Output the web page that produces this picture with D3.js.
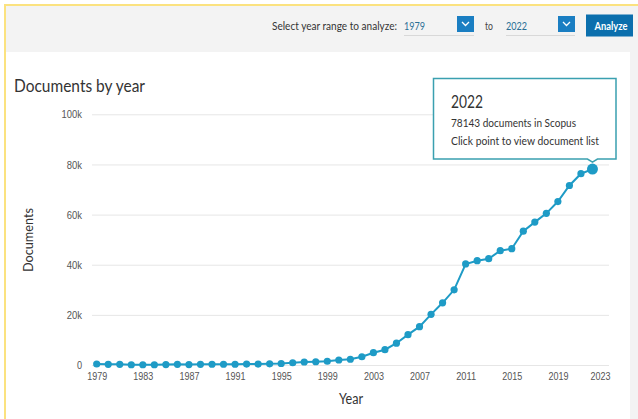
<!DOCTYPE html>
<html><head><meta charset="utf-8">
<script src="https://cdn.jsdelivr.net/npm/d3@7"></script>
<style>
body{margin:0;background:#fff;}
svg{display:block;font-family:Lato,"Open Sans",sans-serif;}
</style></head>
<body><svg id="c" width="638" height="419"></svg>
<script>
const years = d3.range(1979, 2023);
const documents = [400,250,250,100,100,100,150,250,150,250,300,300,300,350,350,450,600,900,1200,1300,1500,2000,2300,3300,4900,6100,8700,12100,15300,20200,24800,30000,40300,41600,42400,45600,46400,53400,57000,60500,65200,71600,76300,78143];
const yTicks = [0,20000,40000,60000,80000,100000];
const xTicks = [1979,1983,1987,1991,1995,1999,2003,2007,2011,2015,2019,2023];
const selectedYear = 2022;

const svg = d3.select("#c");
const lineColor = "#1e9bc6";

function fit(sel, w){ return sel.attr("textLength", w).attr("lengthAdjust","spacingAndGlyphs"); }

// page frame
svg.append("rect").attr("x",0).attr("y",0).attr("width",638).attr("height",419).attr("fill","#fff");
svg.append("rect").attr("x",6).attr("y",6).attr("width",632).attr("height",46).attr("fill","#f3f3f3");
svg.append("rect").attr("x",630).attr("y",52).attr("width",8).attr("height",367).attr("fill","#f3f3f3");
svg.append("rect").attr("x",4).attr("y",4).attr("width",634).attr("height",2).attr("fill","#fbe27f");
svg.append("rect").attr("x",4).attr("y",4).attr("width",2).attr("height",415).attr("fill","#fbe27f");

// header controls
const hdr = svg.append("g");
fit(hdr.append("text").attr("x",272).attr("y",29.5).attr("font-size",10.8).attr("fill","#333").text("Select year range to analyze:"), 125);
function dropdown(x, w, label){
  fit(hdr.append("text").attr("x",x).attr("y",29.5).attr("font-size",11.5).attr("fill","#2a6f95").text(label), 21);
  hdr.append("line").attr("x1",x).attr("x2",x+w).attr("y1",35.5).attr("y2",35.5).attr("stroke","#d8d8d8");
  hdr.append("rect").attr("x",x+w-17).attr("y",16).attr("width",17).attr("height",16).attr("fill","#1a7ec2");
  hdr.append("path").attr("d",`M${x+w-12},${22} l3.5,3.5 l3.5,-3.5`).attr("fill","none").attr("stroke","#fff").attr("stroke-width",1.3);
}
dropdown(404, 70, "1979");
fit(hdr.append("text").attr("x",485).attr("y",29.5).attr("font-size",11.5).attr("fill","#444").text("to"), 8);
dropdown(506, 69, "2022");
hdr.append("rect").attr("x",586).attr("y",14.5).attr("width",47).attr("height",22).attr("fill","#0b6fad");
fit(hdr.append("text").attr("x",594.5).attr("y",29.5).attr("font-size",11.5).attr("font-weight","bold").attr("fill","#fff").text("Analyze"), 33);

// title
fit(svg.append("text").attr("x",14).attr("y",92).attr("font-size",17).attr("fill","#333").text("Documents by year"), 131);

// scales
const x = d3.scaleLinear().domain([1979, 2023]).range([96.7, 604]);
const y = d3.scaleLinear().domain([0, 100000]).range([365, 114.3]);

// grid + y axis
const yAxis = svg.append("g").attr("transform","translate(92,0)")
  .call(d3.axisLeft(y).tickValues(yTicks).tickSize(-517).tickPadding(10)
    .tickFormat(d => d === 0 ? "0" : (d/1000) + "k"));
yAxis.select(".domain").remove();
yAxis.selectAll(".tick line").attr("stroke","#e6e6e6");
yAxis.selectAll(".tick text").attr("font-size",10.5).attr("fill","#555").attr("font-family","inherit").attr("dy","0.35em")
  .each(function(){ const t = d3.select(this); fit(t, t.text().length * 5.1); });

// x axis
const xAxis = svg.append("g").attr("transform","translate(0,365)")
  .call(d3.axisBottom(x).tickValues(xTicks).tickSize(0).tickPadding(8).tickFormat(d3.format("d")));
xAxis.select(".domain").remove();
xAxis.selectAll(".tick text").attr("font-size",10.5).attr("fill","#555").attr("font-family","inherit")
  .each(function(){ fit(d3.select(this), 20); });
xAxis.selectAll(".tick").filter(d => d === 2023).select("text").attr("text-anchor","end").attr("dx", 6);

// axis titles
fit(svg.append("text").attr("transform","translate(33,240) rotate(-90)").attr("text-anchor","middle")
  .attr("font-size",14).attr("fill","#333").text("Documents"), 64);
fit(svg.append("text").attr("x",351).attr("y",404).attr("text-anchor","middle")
  .attr("font-size",14.5).attr("fill","#333").text("Year"), 24);

// line
const data = years.map((yr,i) => ({year: yr, value: documents[i]}));
svg.append("path").datum(data)
  .attr("fill","none").attr("stroke",lineColor).attr("stroke-width",2)
  .attr("d", d3.line().x(d => x(d.year)).y(d => y(d.value)));
svg.append("g").selectAll("circle").data(data).join("circle")
  .attr("cx", d => x(d.year)).attr("cy", d => y(d.value))
  .attr("r", d => d.year === selectedYear ? 5.5 : 3.6)
  .attr("fill", lineColor);

// tooltip
const sel = data.find(d => d.year === selectedYear);
const px = x(sel.year), py = y(sel.value);
const tx = 433.5, ty = 78.5, tw = 182.5, th = 80.5;
const tip = svg.append("g");
tip.append("path")
  .attr("d", `M${tx},${ty} H${tx+tw} V${ty+th} H${px+5} L${px},${py-7} L${px-5},${ty+th} H${tx} Z`)
  .attr("fill","#fff").attr("stroke","#3aa0b0").attr("stroke-width",1.5);
fit(tip.append("text").attr("x",451).attr("y",107.5).attr("font-size",17.5).attr("fill","#333").text(sel.year), 32);
fit(tip.append("text").attr("x",451).attr("y",127).attr("font-size",11.5).attr("fill","#333").text(sel.value + " documents in Scopus"), 125);
fit(tip.append("text").attr("x",451).attr("y",144.5).attr("font-size",11.5).attr("fill","#333").text("Click point to view document list"), 148);
</script></body></html>
